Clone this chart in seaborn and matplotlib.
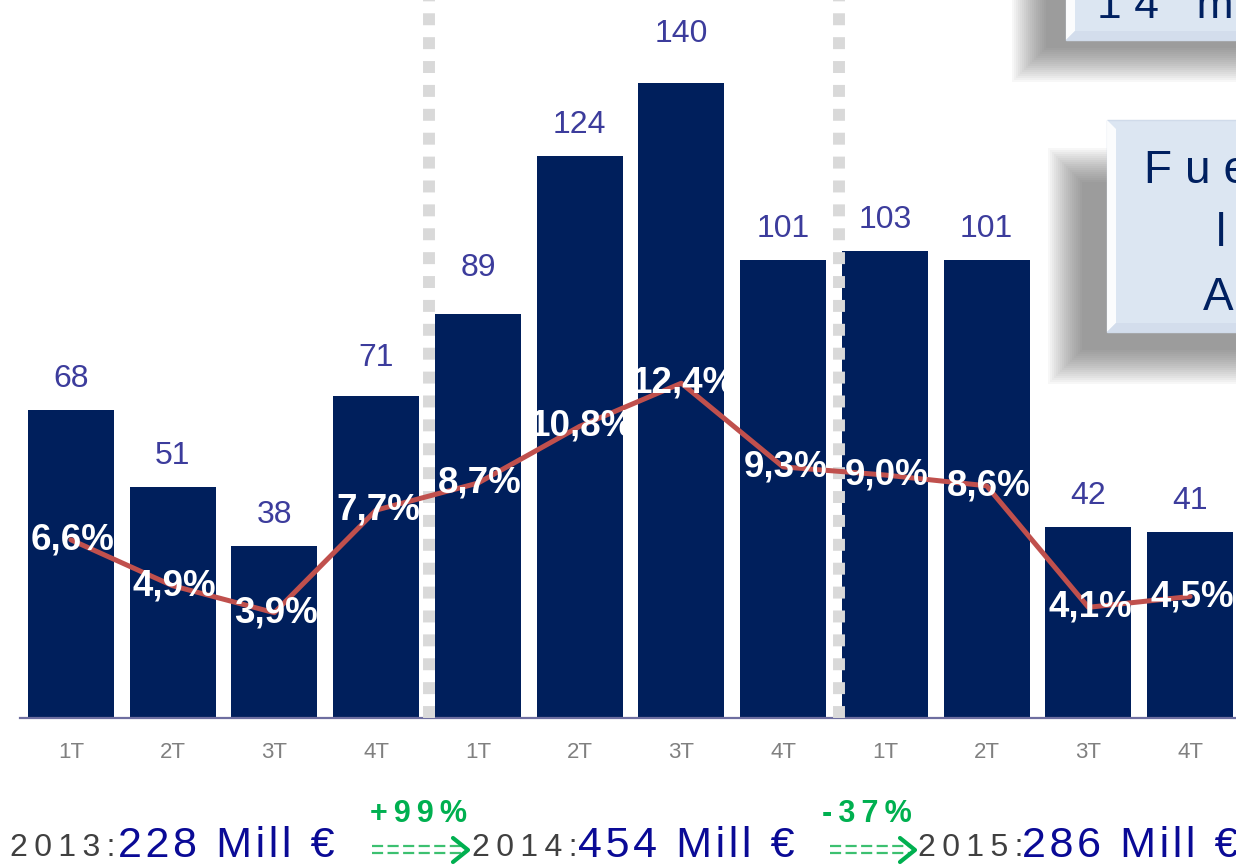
import numpy as np
import pandas as pd
import matplotlib.pyplot as plt
import seaborn as sns
from matplotlib.patches import Rectangle, Polygon
from matplotlib.lines import Line2D

# data
trimestres = ['1T', '2T', '3T', '4T'] * 3
ventas = [68, 51, 38, 71, 89, 124, 140, 101, 103, 101, 42, 41]
margen = [6.6, 4.9, 3.9, 7.7, 8.7, 10.8, 12.4, 9.3, 9.0, 8.6, 4.1, 4.5]
anios = ['2013', '2014', '2015']
totales = [228, 454, 286]
cambios = ['+99%', '-37%']

sns.set_style('white')
plt.rcParams['font.family'] = ['Liberation Sans', 'DejaVu Sans']

W, H = 1236, 865
fig = plt.figure(figsize=(W / 100, H / 100), dpi=100)
fig.patch.set_facecolor('white')

# axes run past the right edge on purpose (the slide is cropped there)
ax = fig.add_axes([20 / W, 147 / H, 12 * 101.75 / W, 718 / H])
df = pd.DataFrame({'idx': range(12), 'ventas': ventas, 'margen': margen})
sns.barplot(data=df, x='idx', y='ventas', color='#001F5C', saturation=1,
            width=0.845, linewidth=0, ax=ax)
ax.set_xlim(-0.5, 11.5)
ax.set_ylim(0, 718 / 4.536)

axis_col = '#6E6EA0'
for s in ['top', 'left', 'right']:
    ax.spines[s].set_visible(False)
ax.spines['bottom'].set_color(axis_col)
ax.spines['bottom'].set_linewidth(1.6)
ax.set_yticks([])
ax.set_xticks(np.arange(-0.5, 12, 1))
ax.set_xticklabels([])
ax.set_xticks(np.arange(12), minor=True)
ax.set_xticklabels(trimestres, minor=True)
ax.tick_params(axis='x', which='major', length=6, width=1.6, color=axis_col, direction='out')
ax.tick_params(axis='x', which='minor', length=0, pad=17, labelsize=16, labelcolor='#808080')
ax.set_xlabel('')
ax.set_ylabel('')

# separators between years
for xs in [3.52, 7.55]:
    ax.axvline(xs, color='#D9D9D9', lw=8.6, ls=(0, (1, 1)), zorder=3)

# values over bars
lift = {3: 7, 4: 15, 6: 18}
for i, v in enumerate(ventas):
    ax.text(i, v + (31 + lift.get(i, 0)) / 4.536, str(v), ha='center', va='center',
            fontsize=23, color='#3C3C9C')

# margin line
ax2 = ax.twinx()
sns.lineplot(data=df, x='idx', y='margen', color='#C0504D', linewidth=3.6, ax=ax2)
ax2.set_xlim(-0.5, 11.5)
ax2.set_ylim(0, 718 / 27)
ax2.set_yticks([])
ax2.set_xlabel('')
ax2.set_ylabel('')
for s in ax2.spines.values():
    s.set_visible(False)
for i, m in enumerate(margen):
    ax2.text(i + 0.02, m, f'{m:.1f}'.replace('.', ',') + '%', ha='center', va='center',
             fontsize=26.5, fontweight='bold', color='white', zorder=5)


def sp(s, sep='\u2009'):
    return sep.join(s)


def px(x, y):
    return x / W, 1 - y / H


def box(x0, y0, x1, y1, shadow):
    # soft drop shadow: stacked translucent rectangles shrinking inwards
    sx0, sy0, sx1, sy1 = shadow
    n, step = 18, 2.0
    for k in range(n):
        g = k * step
        fig.patches.append(Rectangle(px(sx0 + g, sy1 - g), (sx1 - sx0 - 2 * g) / W,
                                     (sy1 - sy0 - 2 * g) / H, transform=fig.transFigure,
                                     color='#4A4A4A', alpha=0.038, lw=0, zorder=1))
    fig.patches.append(Rectangle(px(x0, y1), (x1 - x0) / W, (y1 - y0) / H,
                                 transform=fig.transFigure, facecolor='#DCE6F2',
                                 edgecolor='#D0DBEA', lw=1, zorder=2))
    b = 9
    fig.patches.append(Polygon([px(x0, y0), px(x0 + b, y0 + b), px(x0 + b, y1 - b), px(x0, y1)],
                               closed=True, transform=fig.transFigure,
                               color='white', alpha=0.9, lw=0, zorder=3))
    fig.patches.append(Polygon([px(x0, y1), px(x0 + b, y1 - b), px(x1, y1 - b), px(x1, y1)],
                               closed=True, transform=fig.transFigure,
                               color='#D3DDEC', lw=0, zorder=3))


box(1066, -60, 1300, 40, (1012, -80, 1320, 82))
box(1107, 120, 1300, 332, (1048, 148, 1320, 384))
tc = '#002060'
fig.text(*px(1097, 18), sp('14 millones', '\u2009\u200a'), fontsize=32, color=tc, va='baseline', zorder=4)
fig.text(*px(1144, 183), sp('Fuerte', '\u2009\u200a'), fontsize=33, color=tc, va='baseline', zorder=4)
fig.text(*px(1216, 246), sp('local', '\u2009\u200a'), fontsize=33, color=tc, va='baseline', zorder=4)
fig.text(*px(1203, 310), sp('Anual', '\u2009\u200a'), fontsize=33, color=tc, va='baseline', zorder=4)

# yearly totals along the bottom
year_x = [10, 472, 918]
tot_x = [118, 578, 1022]
for a, t, xa, xt in zip(anios, totales, year_x, tot_x):
    fig.text(*px(xa, 856), sp(a + ':'), fontsize=23, color='#404040', va='baseline')
    fig.text(*px(xt, 857), sp(f'{t} Mill €', '\u200a'), fontsize=31, color='#0A0A96', va='baseline')

green = '#00B050'
for c, xc, (a0, a1) in zip(cambios, [370, 822], [(372, 468), (830, 915)]):
    fig.text(*px(xc, 822), sp(c), fontsize=22, fontweight='bold', color=green, va='baseline')
    for yy in [846, 853]:
        fig.add_artist(Line2D([a0 / W, (a1 - 6) / W], [1 - yy / H] * 2, transform=fig.transFigure,
                              color='#3CC070', lw=1.6, ls=(0, (5, 2))))
    fig.add_artist(Line2D([(a1 - 15) / W, a1 / W, (a1 - 15) / W],
                          [1 - 838 / H, 1 - 850 / H, 1 - 862 / H],
                          transform=fig.transFigure, color=green, lw=3))

fig.savefig('out.png', dpi=100)
